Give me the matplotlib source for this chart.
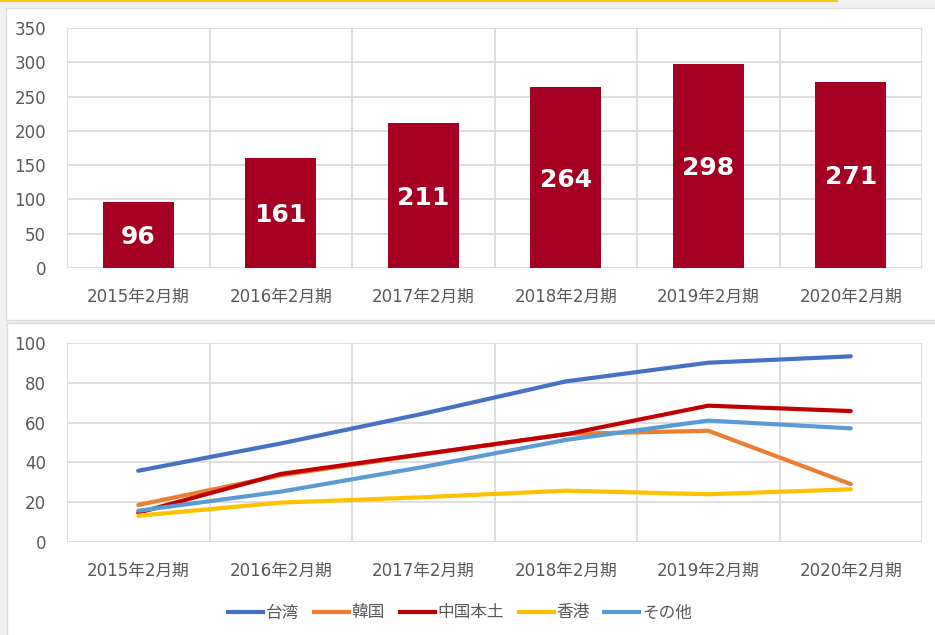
import matplotlib.pyplot as plt
from matplotlib.patches import Rectangle
from matplotlib.lines import Line2D

plt.rcParams['font.family'] = ['DejaVu Sans', 'Noto Sans CJK JP']

# data
periods = ['2015年2月期', '2016年2月期', '2017年2月期', '2018年2月期', '2019年2月期', '2020年2月期']
totals = [96, 161, 211, 264, 298, 271]

taiwan = [35.8, 49.5, 64.5, 80.7, 90.1, 93.3]
korea = [18.6, 33.5, 44.0, 54.3, 55.9, 29.1]
china = [14.7, 34.2, 44.2, 54.1, 68.5, 65.8]
hongkong = [13.2, 19.8, 22.5, 25.8, 24.0, 26.5]
others = [15.7, 25.3, 37.7, 51.3, 61.0, 57.1]

series = [('台湾', taiwan, '#4472C4'),
          ('韓国', korea, '#ED7D31'),
          ('中国本土', china, '#C00000'),
          ('香港', hongkong, '#FFC000'),
          ('その他', others, '#5B9BD5')]

W, H = 935, 635
fig = plt.figure(figsize=(W / 100, H / 100), dpi=100, facecolor='#f0f0f0')

# white panels and the yellow strip at the top (behind the axes)
fig.patches.append(Rectangle((6 / W, 1 - 320 / H), 1, 312 / H, transform=fig.transFigure,
                             facecolor='white', edgecolor='#dcdcdc', lw=1, zorder=-5))
fig.patches.append(Rectangle((7 / W, 0), 1, 1 - 323 / H, transform=fig.transFigure,
                             facecolor='white', edgecolor='#dcdcdc', lw=1, zorder=-5))
fig.patches.append(Rectangle((0, 1 - 2 / H), 838 / W, 2 / H, transform=fig.transFigure,
                             facecolor='#FFC90E', edgecolor='none', zorder=-5))

grid_c = '#d9d9d9'
tick_c = '#595959'
x = list(range(len(periods)))


def style(ax, ymax, step):
    ax.set_xlim(-0.5, len(periods) - 0.5)
    ax.set_ylim(0, ymax)
    ax.set_yticks(range(0, ymax + 1, step))
    ax.set_xticks(x)
    ax.set_xticklabels(periods)
    for b in [i - 0.5 for i in range(len(periods) + 1)]:
        ax.axvline(b, color=grid_c, lw=1.2, zorder=0)
    ax.grid(axis='y', color=grid_c, lw=1.2, zorder=0)
    ax.set_axisbelow(True)
    for s in ax.spines.values():
        s.set_visible(False)
    ax.tick_params(length=0, labelsize=12, colors=tick_c)
    ax.tick_params(axis='x', pad=14)
    ax.tick_params(axis='y', pad=15)


# top: bar chart
ax1 = fig.add_axes([67 / W, 1 - 268 / H, 855 / W, 240 / H])
ax1.set_facecolor('none')
bars = ax1.bar(x, totals, width=0.5, color='#A50021', zorder=2)
for b, v in zip(bars, totals):
    ax1.text(b.get_x() + b.get_width() / 2, v / 2 - 3, str(v), ha='center', va='center',
             color='white', fontsize=18, fontweight='bold')
style(ax1, 350, 50)

# bottom: lines
ax2 = fig.add_axes([67 / W, 1 - 542 / H, 855 / W, 199 / H])
ax2.set_facecolor('none')
for name, vals, c in series:
    ax2.plot(x, vals, color=c, lw=3, label=name, solid_capstyle='round', zorder=3)
style(ax2, 100, 20)

handles = [Line2D([0], [0], color=c, lw=3) for _, _, c in series]
fig.legend(handles, [s[0] for s in series], loc='center', bbox_to_anchor=(460 / W, 1 - 613 / H),
           ncol=5, frameon=False, prop={'family': 'Noto Sans CJK JP', 'size': 12},
           handlelength=2.1, handletextpad=0.15, columnspacing=0.9, labelcolor=tick_c)

fig.savefig('out.png', dpi=100, facecolor=fig.get_facecolor())
